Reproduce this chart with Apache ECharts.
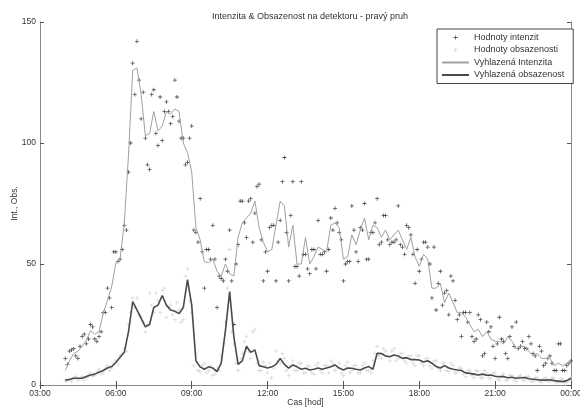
<!DOCTYPE html>
<html>
<head>
<meta charset="utf-8">
<script src="https://cdn.jsdelivr.net/npm/echarts@6/dist/echarts.min.js"></script>
<style>html,body{margin:0;padding:0;background:#fff}#c{width:580px;height:410px}</style>
</head>
<body>
<div id="c"></div>
<script>
// Sampling: every 10 minutes from 04:00 to 24:00 (hours); raw points also at the 5-minute offsets
const startHour = 4;
const stepHours = 1 / 6;
const offsetHours = 1 / 12;

const xTickLabels = ['03:00', '06:00', '09:00', '12:00', '15:00', '18:00', '21:00', '00:00'];
const yTickLabels = ['0', '50', '100', '150'];
const seriesNames = ['Hodnoty intenzit', 'Hodnoty obsazenosti', 'Vyhlazená Intenzita', 'Vyhlazená obsazenost'];

// raw intensity at hh:00, hh:10, ... (121 values)
const intensityPoints = [
  11, 14, 15, 11, 20, 17,
  25, 19, 20, 30, 40, 32,
  55, 52, 66, 88, 133, 142,
  110, 102, 89, 122, 99, 101,
  117, 108, 126, 109, 102, 92,
  107, 63, 77, 40, 56, 66,
  32, 44, 52, 64, 25, 58,
  76, 61, 77, 71, 83, 43,
  47, 66, 43, 68, 94, 43,
  84, 49, 84, 54, 46, 56,
  68, 54, 47, 69, 73, 63,
  43, 51, 74, 55, 65, 75,
  52, 63, 77, 59, 70, 58,
  59, 74, 57, 66, 62, 42,
  47, 59, 57, 36, 31, 47,
  38, 29, 43, 27, 20, 30,
  30, 18, 29, 12, 26, 24,
  11, 28, 18, 11, 24, 26,
  16, 15, 20, 13, 6, 14,
  9, 12, 6, 17, 6, 8,
  10
];
// raw intensity at hh:05, hh:15, ... (120 values)
const intensityPointsOffset = [
  8.5, 14.5, 12, 16, 21, 19,
  24, 18, 22, 30, 36, 55,
  51, 56, 64, 100, 120, 126,
  121, 91, 120, 104, 119, 113,
  113, 111, 119, 102, 91, 102,
  64, 59, 55, 56, 52, 52,
  45, 43, 47, 43, 50, 76,
  67, 76, 59, 82, 60, 55,
  65, 66, 59, 84, 63, 70,
  49, 45, 54, 48, 56, 48,
  54, 55, 56, 64, 67, 60,
  50, 51, 64, 51, 64, 52,
  63, 67, 58, 70, 60, 59,
  60, 58, 54, 65, 54, 56,
  52, 59, 50, 57, 42, 33,
  39, 45, 35, 29, 30, 26,
  20, 19, 27, 13, 22, 16,
  17, 19, 13, 20, 16, 15,
  18, 15, 17, 12, 16, 8,
  11, 9, 6, 17, 6, 9
];

const occupancyPoints = [
  1.5, 2.5, 3, 2, 3.5, 3,
  5, 4, 6.5, 5, 8, 7,
  10, 12, 15, 25, 36, 36,
  28, 22, 38, 30, 35, 39,
  28, 33, 27, 31, 27, 48,
  30, 13, 5.5, 9, 6, 4,
  7, 12, 26, 56, 17, 6,
  13, 20, 11, 23, 6, 9.5,
  5, 3, 14, 9, 11, 4,
  10, 6, 9, 5, 7.5, 4.5,
  9, 5, 8, 10, 6, 9,
  4, 9.5, 6, 8, 5, 9,
  6, 10, 16, 11, 14, 10,
  15, 11, 13, 9, 12, 8,
  12, 8, 11, 7, 10, 6,
  9, 5.5, 8, 5, 7, 3.5,
  6, 3, 5.5, 3, 5, 2.5,
  5, 2, 4.5, 2, 4, 1.5,
  4, 2, 3.5, 1.5, 3, 1,
  3, 1.5, 2.5, 1, 2.5, 1,
  3
];
const occupancyPointsOffset = [
  2, 1.5, 3.5, 2.5, 2, 4,
  3.5, 5.5, 4.5, 7, 6, 9,
  8.5, 13, 14, 30, 32, 29,
  26, 25, 33, 38, 30, 40,
  32, 29, 34, 26, 45, 35,
  8, 6, 8, 5, 8, 4.5,
  6, 17, 40, 22, 9, 11,
  18, 14, 22, 9, 6, 8,
  9, 7, 10, 13, 6, 8,
  6, 9, 5, 8, 5, 8,
  6, 8, 5, 9, 7, 5,
  8, 5, 8, 5, 8, 6,
  5, 13, 12, 15, 12, 14,
  10, 13, 10, 12, 9, 12,
  9, 11, 8, 10, 7, 9,
  6, 9, 5, 7, 4.5, 6,
  4, 6, 3, 6, 3, 5,
  2.5, 4, 2, 4, 2, 3.5,
  2, 3.5, 1.5, 3, 1.5, 2.5,
  1.5, 3, 1, 2.5, 1, 2
];

const intensitySmooth = [
  6, 10, 13, 14, 16, 18.5,
  22.5, 21, 22, 29.5, 35, 40.5,
  50.5, 52, 67, 95, 130, 131,
  120, 103, 104, 113, 105, 107,
  113, 112, 114, 113, 100, 96,
  88, 65, 60, 51, 50.5, 52,
  47, 45, 50, 46, 45, 61,
  67, 69, 71, 76, 65, 59,
  55, 56, 66, 76, 74, 57,
  66, 50, 50, 61, 50, 53,
  57, 56, 55, 66, 67, 65,
  52, 53, 62, 58, 64, 69,
  60, 66, 65, 61, 64, 60,
  62, 64, 60, 56, 61, 53,
  49, 54, 52, 40, 40, 42,
  34, 38, 34, 30, 30, 28,
  25, 22, 23, 20, 22, 19,
  18, 18, 17, 20, 18, 15,
  16, 16, 14, 12, 13, 11,
  11, 11, 8, 9, 8, 9,
  10
];

const occupancySmooth = [
  2, 2.3, 2.8, 2.8, 2.8, 3.5,
  4.1, 4.5, 5.3, 6, 7, 7.6,
  9.3, 11.5, 13.5, 22, 34.5, 31,
  27.5, 24, 25, 32, 33, 37,
  33, 31, 30.5, 29.5, 32, 43.5,
  33, 10, 7.5, 6.5, 7.5, 7,
  5.5, 9, 22.5, 38.6, 20, 8.5,
  10, 16, 13.5, 14.5, 8, 7.5,
  7, 7.5, 8.5, 11, 8.5, 7,
  8.3, 7.5, 6.5, 6.9, 6.2, 6.5,
  7, 6.5, 7, 7.5, 8.3, 7,
  6.2, 7, 6.9, 6.5, 6.2, 7,
  7.6, 6.5, 13.1, 13, 12, 11.7,
  12.4, 12, 11, 11.3, 10.5, 10.5,
  10.3, 9.5, 10, 9, 7.6, 7,
  8, 7, 6.5, 6.2, 6, 5,
  4.8, 4.5, 4.1, 4.5, 4, 4.1,
  3.6, 3.4, 3.5, 3, 3.2, 2.8,
  3, 3.1, 2.6, 2.4, 2.2, 2,
  2, 2.2, 1.8, 1.6, 1.4, 1.8,
  2.8
];

const times = intensitySmooth.map((_, i) => startHour + i * stepHours);
const timesOffset = intensityPointsOffset.map((_, i) => startHour + offsetHours + i * stepHours);
const pairs = (arr, t) => arr.map((v, i) => [t[i], v]);

const plus = 'path://M2,0H3V2H5V3H3V5H2V3H0V2H2Z';
const font = 'Liberation Sans, Arial, sans-serif';
const frame = { show: true, lineStyle: { color: '#8a8a8a', width: 1 } };
const tick = { show: true, inside: true, length: 4, lineStyle: { color: '#555' } };

const chart = echarts.init(document.getElementById('c'), null, { renderer: 'canvas' });
chart.setOption({
  backgroundColor: '#fff',
  animation: false,
  textStyle: { fontFamily: font },
  title: {
    text: 'Intenzita & Obsazenost na detektoru - pravý pruh',
    left: 305, top: 7, textAlign: 'center',
    textStyle: { fontSize: 9, fontWeight: 'normal', color: '#333', fontFamily: font }
  },
  grid: { left: 40, right: 9, top: 22, bottom: 25, containLabel: false, outerBoundsMode: 'none' },
  legend: {
    orient: 'vertical', left: 437, top: 29,
    itemWidth: 27, itemHeight: 4, itemGap: 3.5,
    padding: [4, 9, 4, 4],
    borderColor: '#444', borderWidth: 1, backgroundColor: '#fff',
    textStyle: { fontSize: 9, color: '#333', fontFamily: font },
    data: [
      { name: seriesNames[0] },
      { name: seriesNames[1] },
      { name: seriesNames[2], itemStyle: { opacity: 0 } },
      { name: seriesNames[3], itemStyle: { opacity: 0 } }
    ]
  },
  xAxis: [{
    type: 'value', min: 3, max: 24, interval: 3,
    name: 'Cas [hod]', nameLocation: 'middle', nameGap: 13, nameMoveOverlap: false,
    nameTextStyle: { fontSize: 8.5, color: '#333' },
    axisLine: frame, axisTick: tick, splitLine: { show: false },
    axisLabel: { fontSize: 8.5, color: '#333', margin: 4,
      formatter: v => xTickLabels[Math.round((v - 3) / 3)] }
  }, {
    type: 'value', position: 'top', min: 3, max: 24, interval: 3,
    axisLine: frame, axisTick: tick, splitLine: { show: false }, axisLabel: { show: false }
  }],
  yAxis: [{
    type: 'value', min: 0, max: 150, interval: 50,
    name: 'Int., Obs.', nameLocation: 'middle', nameGap: 21, nameRotate: 90, nameMoveOverlap: false,
    nameTextStyle: { fontSize: 8.5, color: '#333' },
    axisLine: frame, axisTick: tick, splitLine: { show: false },
    axisLabel: { fontSize: 8.5, color: '#333', margin: 4,
      formatter: v => yTickLabels[Math.round(v / 50)] }
  }, {
    type: 'value', position: 'right', min: 0, max: 150, interval: 50,
    axisLine: frame, axisTick: tick, splitLine: { show: false }, axisLabel: { show: false }
  }],
  series: [
    { name: seriesNames[0], type: 'scatter',
      data: pairs(intensityPoints, times).concat(pairs(intensityPointsOffset, timesOffset)),
      symbol: plus, symbolSize: 4, itemStyle: { color: '#262626' }, z: 3 },
    { name: seriesNames[1], type: 'scatter',
      data: pairs(occupancyPoints, times).concat(pairs(occupancyPointsOffset, timesOffset)),
      symbol: plus, symbolSize: 4, itemStyle: { color: '#cfcfcf' }, z: 2 },
    { name: seriesNames[2], type: 'line', data: pairs(intensitySmooth, times),
      symbol: 'none', lineStyle: { color: '#a0a0a0', width: 1 }, itemStyle: { color: '#a0a0a0' }, z: 4 },
    { name: seriesNames[3], type: 'line', data: pairs(occupancySmooth, times),
      symbol: 'none', lineStyle: { color: '#4a4a4a', width: 1.6 }, itemStyle: { color: '#4a4a4a' }, z: 5 }
  ]
});
</script>
</body>
</html>
